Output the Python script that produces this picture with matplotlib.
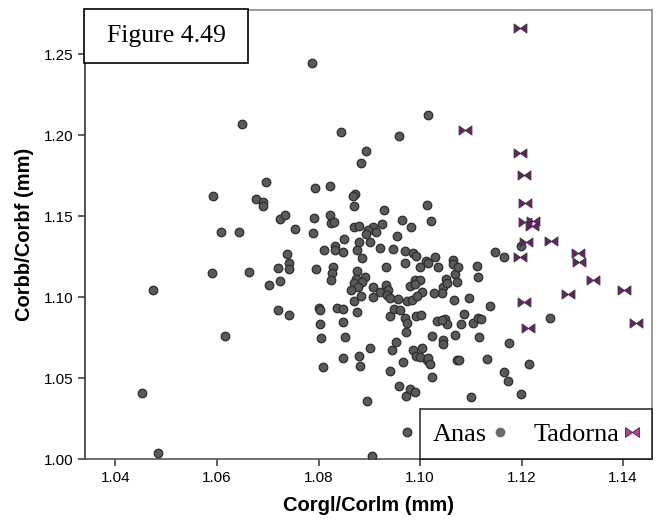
import matplotlib
matplotlib.use("Agg")
import matplotlib.pyplot as plt
from matplotlib.lines import Line2D
from matplotlib.patches import Rectangle
from matplotlib.path import Path

# Anas: Corgl/Corlm vs Corbb/Corbf
anas_x = [
    1.0649, 1.0697, 1.0593, 1.0676, 1.0691, 1.0691, 1.0724, 1.0734, 1.0608, 1.0644,
    1.0737, 1.0742, 1.0720, 1.0742, 1.0591, 1.0663, 1.0703, 1.0725, 1.0473, 1.0721,
    1.0742, 1.0616, 1.0453, 1.0484, 1.0788, 1.0905, 1.1016, 1.0844, 1.0959, 1.0893,
    1.0884, 1.0794, 1.0823, 1.0872, 1.0867, 1.0870, 1.1014, 1.0930, 1.0791, 1.0823,
    1.0825, 1.0831, 1.0753, 1.0790, 1.0869, 1.0880, 1.0908, 1.0925, 1.0965, 1.0982,
    1.1022, 1.0898, 1.0913, 1.0894, 1.0850, 1.0954, 1.0880, 1.0901, 1.0811, 1.0833,
    1.0833, 1.0848, 1.0875, 1.0886, 1.0922, 1.0947, 1.0970, 1.0986, 1.0992, 1.0971,
    1.1011, 1.1016, 1.1030, 1.0999, 1.1035, 1.1064, 1.1064, 1.0795, 1.0828, 1.0826,
    1.0875, 1.0932, 1.1068, 1.1075, 1.1199, 1.1148, 1.1166, 1.1113, 1.1114, 1.1051,
    1.1073, 1.1046, 1.1043, 1.1066, 1.1097, 1.1138, 1.1087, 1.1049, 1.1053, 1.1080,
    1.1105, 1.1114, 1.1120, 1.1256, 1.1069, 1.1117, 1.1045, 1.1045, 1.1175, 1.1073,
    1.1077, 1.1131, 1.1214, 1.1166, 1.1174, 1.1100, 1.1198, 1.1033, 1.1043, 1.0824,
    1.0892, 1.0874, 1.0885, 1.0869, 1.0878, 1.0865, 1.0870, 1.0883, 1.0876, 1.0908,
    1.0921, 1.0933, 1.0936, 1.0934, 1.0940, 1.0908, 1.0957, 1.0974, 1.0984, 1.0990,
    1.1000, 1.0980, 1.0990, 1.1003, 1.0995, 1.1028, 1.1053, 1.0836, 1.0848, 1.0849,
    1.0940, 1.0949, 1.0961, 1.0970, 1.0974, 1.0992, 1.1001, 1.0800, 1.0803, 1.0803,
    1.0805, 1.0852, 1.0972, 1.1023, 1.0953, 1.0944, 1.0967, 1.0901, 1.0849, 1.0879,
    1.0882, 1.0808, 1.0987, 1.1003, 1.0993, 1.1000, 1.1013, 1.1016, 1.1020, 1.1023,
    1.0941, 1.0959, 1.0972, 1.0980, 1.0990, 1.0895, 1.0974,
]
anas_y = [
    1.2069, 1.1712, 1.1625, 1.1605, 1.1590, 1.1566, 1.1485, 1.1508, 1.1401, 1.1401,
    1.1265, 1.1213, 1.1179, 1.1172, 1.1150, 1.1158, 1.1074, 1.1098, 1.1046, 1.0919,
    1.0892, 1.0762, 1.0408, 1.0035, 1.2446, 1.0020, 1.2128, 1.2023, 1.1996, 1.1904,
    1.1831, 1.1677, 1.1685, 1.1636, 1.1624, 1.1564, 1.1572, 1.1541, 1.1491, 1.1506,
    1.1460, 1.1465, 1.1423, 1.1397, 1.1432, 1.1438, 1.1436, 1.1454, 1.1475, 1.1434,
    1.1469, 1.1415, 1.1405, 1.1391, 1.1362, 1.1378, 1.1343, 1.1341, 1.1294, 1.1315,
    1.1294, 1.1278, 1.1290, 1.1244, 1.1306, 1.1300, 1.1284, 1.1275, 1.1255, 1.1213,
    1.1224, 1.1210, 1.1247, 1.1189, 1.1189, 1.1228, 1.1205, 1.1172, 1.1185, 1.1151,
    1.1162, 1.1189, 1.1142, 1.1189, 1.1316, 1.1281, 1.1250, 1.1193, 1.1127, 1.1111,
    1.1092, 1.1061, 1.1024, 1.0983, 1.0997, 1.0946, 1.0898, 1.0863, 1.0833, 1.0833,
    1.0839, 1.0870, 1.0865, 1.0871, 1.0768, 1.0752, 1.0735, 1.0711, 1.0715, 1.0612,
    1.0612, 1.0616, 1.0587, 1.0536, 1.0482, 1.0385, 1.0400, 1.0853, 1.0859, 1.1106,
    1.1123, 1.1111, 1.1096, 1.1086, 1.1065, 1.1045, 1.0977, 1.1007, 1.0910, 1.1065,
    1.1034, 1.1075, 1.1045, 1.1014, 1.0993, 1.0999, 1.0987, 1.0978, 1.0983, 1.1106,
    1.1106, 1.1069, 1.1082, 1.1034, 1.1007, 1.1024, 1.1086, 1.0931, 1.0925, 1.0849,
    1.0884, 1.0925, 1.0921, 1.0870, 1.0842, 1.0886, 1.0890, 1.0931, 1.0921, 1.0834,
    1.0746, 1.0756, 1.0787, 1.0760, 1.0725, 1.0674, 1.0601, 1.0684, 1.0622, 1.0637,
    1.0575, 1.0570, 1.0674, 1.0684, 1.0637, 1.0629, 1.0612, 1.0622, 1.0587, 1.0509,
    1.0546, 1.0451, 1.0389, 1.0431, 1.0412, 1.0358, 1.0169,
]

# Tadorna
tadorna_x = [
    1.1197, 1.1089, 1.1196, 1.1205, 1.1206, 1.1207, 1.1223, 1.1221, 1.1209, 1.1258,
    1.1311, 1.1314, 1.1196, 1.1340, 1.1292, 1.1402, 1.1204, 1.1426, 1.1212,
]
tadorna_y = [
    1.2662, 1.2033, 1.1893, 1.1755, 1.1580, 1.1465, 1.1473, 1.1440, 1.1343, 1.1349,
    1.1271, 1.1219, 1.1250, 1.1106, 1.1018, 1.1045, 1.0970, 1.0839, 1.0808,
]

x_ticks = [1.04, 1.06, 1.08, 1.10, 1.12, 1.14]
y_ticks = [1.00, 1.05, 1.10, 1.15, 1.20, 1.25]

# bow-tie marker: two triangles meeting in the middle
bowtie = Path(
    [(-1, -0.7), (-1, 0.7), (0, 0), (-1, -0.7),
     (1, -0.7), (1, 0.7), (0, 0), (1, -0.7)],
    [Path.MOVETO, Path.LINETO, Path.LINETO, Path.CLOSEPOLY,
     Path.MOVETO, Path.LINETO, Path.LINETO, Path.CLOSEPOLY],
)

sans = "Liberation Sans"
serif = "Liberation Serif"

fig = plt.figure(figsize=(6.62, 5.24), dpi=100)
ax = fig.add_axes([0.1284, 0.124, 0.8565, 0.857])

ax.scatter(anas_x, anas_y, s=38, c="#5a5a5a", edgecolors="#2e2e2e",
           linewidths=0.9, zorder=3)
ax.scatter(tadorna_x, tadorna_y, s=85, marker=bowtie, c="#6b1c6e",
           edgecolors="#3a3a3a", linewidths=0.7, zorder=4)

ax.set_xlim(1.034, 1.1457)
ax.set_ylim(1.00, 1.2775)
ax.set_xticks(x_ticks)
ax.set_yticks(y_ticks)
ax.set_xticklabels([f"{v:.2f}" for v in x_ticks], fontfamily=sans)
ax.set_yticklabels([f"{v:.2f}" for v in y_ticks], fontfamily=sans)
ax.tick_params(labelsize=11, length=5, width=1.2, color="#444444")

ax.spines["left"].set_color("#333333")
ax.spines["bottom"].set_color("#555555")
ax.spines["top"].set_color("#8c8c8c")
ax.spines["right"].set_color("#8c8c8c")
for sp in ax.spines.values():
    sp.set_linewidth(1.2)

ax.set_xlabel("Corgl/Corlm (mm)", fontfamily=sans, fontweight="bold",
              fontsize=14.5, labelpad=8)
ax.set_ylabel("Corbb/Corbf (mm)", fontfamily=sans, fontweight="bold",
              fontsize=14.5, labelpad=7)

handles = [
    Line2D([], [], linestyle="none", marker="o", markersize=6,
           markerfacecolor="#6a6a6a", markeredgecolor="#6a6a6a"),
    Line2D([], [], linestyle="none", marker=bowtie, markersize=10,
           markerfacecolor="#b0458f", markeredgecolor="#5a2a50",
           markeredgewidth=0.7),
]
leg = ax.legend(handles, ["Anas", "Tadorna"], loc="lower right", ncol=2,
                markerfirst=False, frameon=True, fancybox=False,
                borderaxespad=0, handlelength=0.5, handletextpad=0.25,
                columnspacing=1.0, borderpad=0.5,
                prop={"family": serif, "size": 19})
leg.get_frame().set_edgecolor("black")
leg.get_frame().set_linewidth(1.2)
leg.set_zorder(6)

# "Figure 4.49" box over the top-left corner
fig.patches.append(Rectangle((0.1269, 0.8803), 0.2477, 0.1025,
                             transform=fig.transFigure, facecolor="white",
                             edgecolor="black", linewidth=1.2, zorder=10))
fig.text(0.2508, 0.9313, "Figure 4.49", ha="center", va="center",
         fontfamily=serif, fontsize=18.5, zorder=11)

fig.savefig("out.png", dpi=100)
plt.close(fig)
